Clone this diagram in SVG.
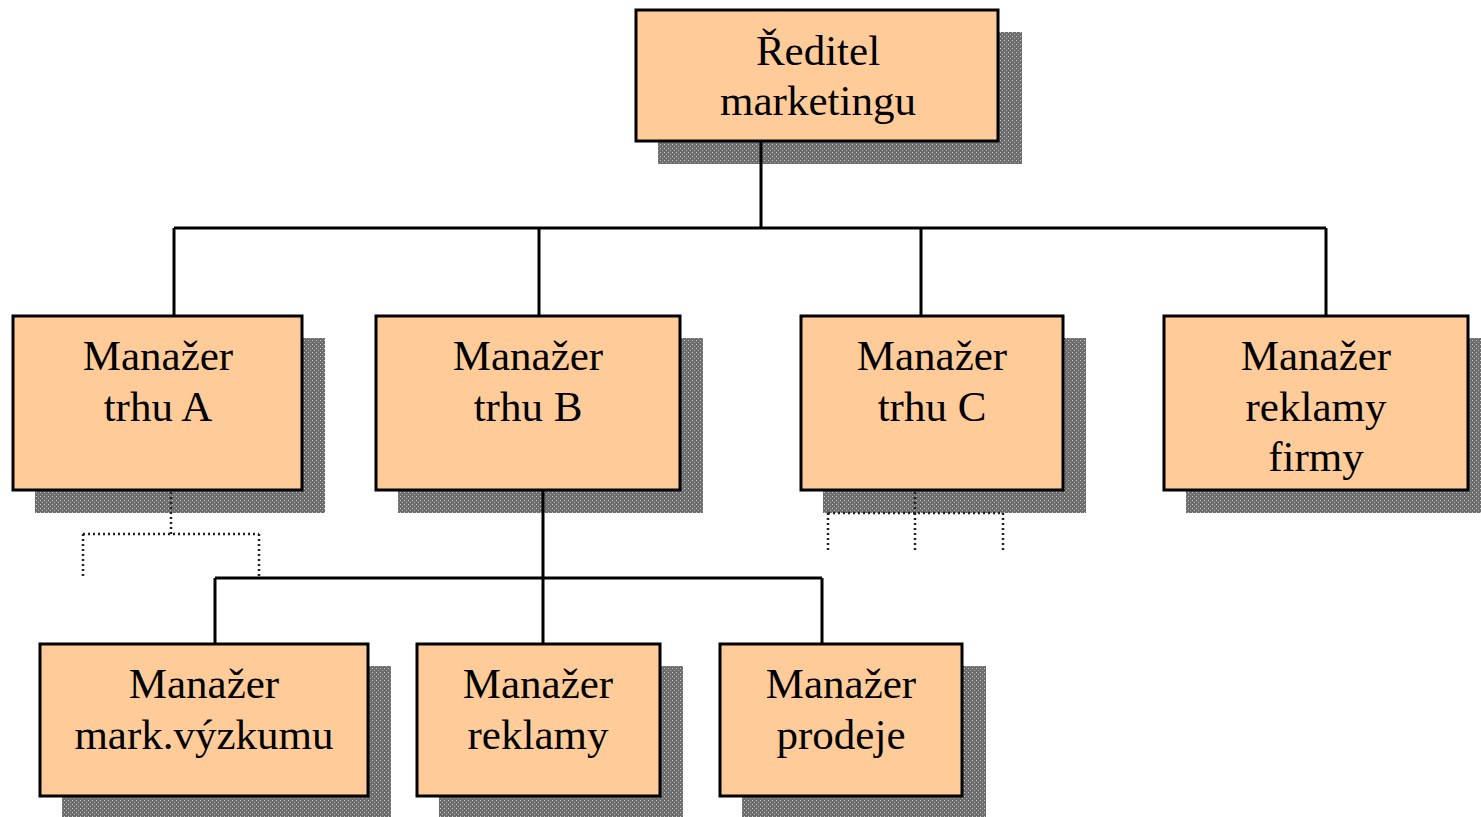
<svg xmlns="http://www.w3.org/2000/svg" width="1481" height="817" viewBox="0 0 1481 817">
<defs>
<pattern id="sh" width="4" height="4" patternUnits="userSpaceOnUse">
<rect width="4" height="4" fill="#6e6e6e"/>
<rect x="0" y="0" width="1" height="1" fill="#c8c8c8"/>
<rect x="2" y="2" width="1" height="1" fill="#a8a8a8"/>
</pattern>
</defs>
<style>
.box{fill:#FFCC99;stroke:#000;stroke-width:3}
.shadow{fill:url(#sh)}
.t{font-family:"Liberation Serif","Times New Roman",serif;font-size:43px;fill:#000;text-anchor:middle}
.ln{stroke:#000;stroke-width:3;fill:none}
.dt{stroke:#222;stroke-width:2.5;stroke-dasharray:2 3;fill:none}
</style>
<rect width="1481" height="817" fill="#fff"/>
<g id="n0"><rect class="shadow" x="658" y="32" width="364" height="132"/><rect class="box" x="636" y="10" width="362" height="131"/><text class="t" x="818" y="65">Ředitel</text><text class="t" x="818" y="115">marketingu</text></g>
<g id="nA"><rect class="shadow" x="35" y="338" width="290" height="175"/><rect class="box" x="13" y="316" width="289" height="174"/><text class="t" x="158" y="370">Manažer</text><text class="t" x="158" y="421">trhu A</text></g>
<g id="nB"><rect class="shadow" x="398" y="338" width="305" height="175"/><rect class="box" x="376" y="316" width="304" height="174"/><text class="t" x="528" y="370">Manažer</text><text class="t" x="528" y="421">trhu B</text></g>
<g id="nC"><rect class="shadow" x="823" y="338" width="263" height="175"/><rect class="box" x="801" y="316" width="262" height="174"/><text class="t" x="932" y="370">Manažer</text><text class="t" x="932" y="421">trhu C</text></g>
<g id="nD"><rect class="shadow" x="1186" y="338" width="295" height="175"/><rect class="box" x="1164" y="316" width="304" height="174"/><text class="t" x="1316" y="370">Manažer</text><text class="t" x="1316" y="421">reklamy</text><text class="t" x="1316" y="471">firmy</text></g>
<g id="nE"><rect class="shadow" x="62" y="666" width="329" height="151"/><rect class="box" x="40" y="644" width="328" height="152"/><text class="t" x="204" y="698">Manažer</text><text class="t" x="204" y="749">mark.výzkumu</text></g>
<g id="nF"><rect class="shadow" x="439" y="666" width="244" height="151"/><rect class="box" x="417" y="644" width="243" height="152"/><text class="t" x="538" y="698">Manažer</text><text class="t" x="538" y="749">reklamy</text></g>
<g id="nG"><rect class="shadow" x="742" y="666" width="244" height="151"/><rect class="box" x="720" y="644" width="242" height="152"/><text class="t" x="841" y="698">Manažer</text><text class="t" x="841" y="749">prodeje</text></g>
<g id="connectors">
<path class="ln" d="M761 142V228M174 228H1326M174 228V315M539 228V315M921 228V315M1326 228V315"/>
<path class="ln" d="M543 491V578M215 578H822M215 578V643M543 578V643M822 578V643"/>
<path class="dt" d="M171 492V534M83 534H259M83 534V578M259 534V578"/>
<path class="dt" d="M915 492V513M828 513H1003M828 513V551M915 513V551M1003 513V551"/>
</g>
</svg>
